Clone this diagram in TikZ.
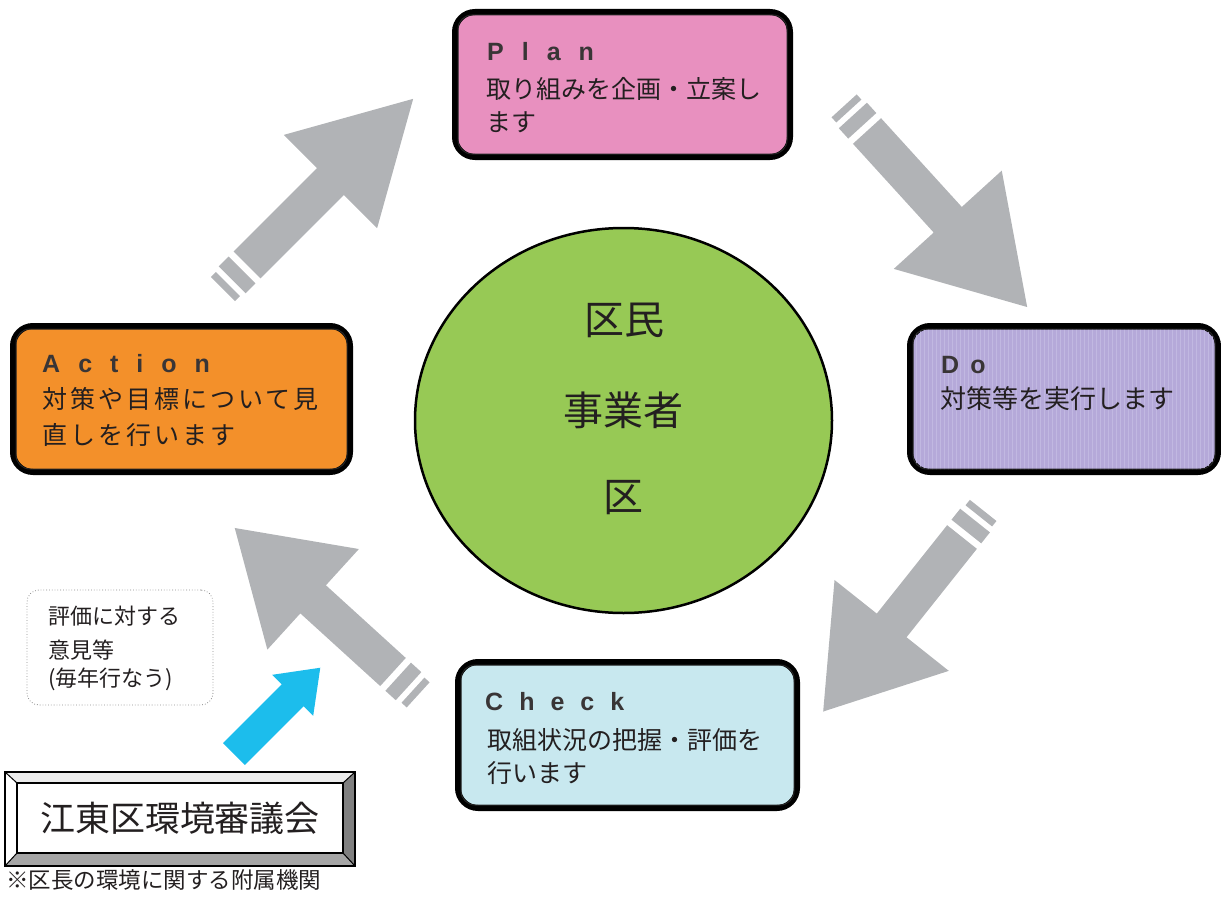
\documentclass[tikz,border=0pt]{standalone}
\usepackage{fontspec}
\setmainfont{Noto Sans CJK JP}
\newfontfamily\ttlfont{Liberation Sans}
\usetikzlibrary{calc,shapes.geometric}
\definecolor{plancol}{HTML}{E890BF}
\definecolor{docol}{HTML}{B5A9D9}
\definecolor{dogrid}{HTML}{C1B8E1}
\definecolor{actcol}{HTML}{F3902A}
\definecolor{chkcol}{HTML}{C8E8EF}
\definecolor{circcol}{HTML}{97C955}
\definecolor{arrowgray}{HTML}{B1B3B6}
\definecolor{bluearrow}{HTML}{1CBDEC}
\definecolor{textcol}{HTML}{231F20}
\newcommand{\cyclearrow}[5]{%
\begin{scope}[shift={#1},rotate=#2]
\fill[arrowgray] (0,-19) -- ({#3-#4},-19) -- ({#3-#4},-#5) -- (#3,0) -- ({#3-#4},#5) -- ({#3-#4},19) -- (0,19) -- cycle;
\fill[arrowgray] (-21,-19) rectangle (-7,19);
\fill[arrowgray] (-34,-17) rectangle (-27,17);
\end{scope}}
\begin{document}
\begin{tikzpicture}[x=1pt,y=-1pt,
  pdcabox/.style={draw=black, line width=6pt, rounded corners=20pt, inner sep=0pt, minimum height=146pt},
  innerline/.style={draw=black!85, line width=1pt, rounded corners=14pt},
  ttl/.style={font=\ttlfont\bfseries\fontsize{25}{30}\selectfont, text=textcol!90, inner sep=0pt, anchor=base west},
  body/.style={font=\fontsize{25}{30}\selectfont, text=textcol, inner sep=0pt, anchor=base west},
  small/.style={font=\fontsize{22}{26}\selectfont, text=textcol, inner sep=0pt, anchor=base west},
  big/.style={font=\fontsize{40}{46}\selectfont, text=textcol, inner sep=0pt, anchor=center}]
\useasboundingbox (0,0) rectangle (1221,899);

% ---------- gray cycle arrows ----------
\coordinate (a1s) at (247,265);
\coordinate (a2s) at (867,131);
\coordinate (a3s) at (962,537);
\coordinate (a4s) at (393,672);
\cyclearrow{(a1s)}{45}{235}{117}{66}
\cyclearrow{(a2s)}{-47.7}{238}{118}{73}
\cyclearrow{(a3s)}{-128.5}{223}{110}{73}
\cyclearrow{(a4s)}{137.7}{214}{106}{68}

% ---------- centre ellipse ----------
\node[ellipse, draw=black, line width=2.5pt, fill=circcol, minimum width=417pt, minimum height=385pt, inner sep=0pt] (centre) at (623.5,420.5) {};
\node[big] (c1) at (624,320) {区民};
\node[big] (c2) at (623,410) {事業者};
\node[big] (c3) at (623,498) {区};

% ---------- Plan ----------
\node[pdcabox, fill=plancol, minimum width=335pt, minimum height=145pt] (plan) at (622.5,84.5) {};
\draw[innerline] ($(plan.north west)+(6,6)$) rectangle ($(plan.south east)+(-6,-6)$);
\node[ttl] (plant) at (487,60) {P\hspace{18pt}l\hspace{18pt}a\hspace{18pt}n};
\node[body] (plan1) at (486,98.5) {取り組みを企画・立案し};
\node[body] (plan2) at (486,131.5) {ます};

% ---------- Do ----------
\node[pdcabox, fill=docol, minimum width=308pt] (do) at (1064,399) {};
\begin{scope}
\clip[rounded corners=14pt] ($(do.north west)+(6,6)$) rectangle ($(do.south east)+(-6,-6)$);
\draw[dogrid, line width=0.3pt] (910,326) grid[step=4] (1218,472);
\end{scope}
\draw[innerline] ($(do.north west)+(6,6)$) rectangle ($(do.south east)+(-6,-6)$);
\node[ttl] (dot) at (941,373) {D\hspace{11pt}o};
\node[body, font=\fontsize{26}{30}\selectfont] (do1) at (940,408.5) {対策等を実行します};

% ---------- Action ----------
\node[pdcabox, fill=actcol, minimum width=337pt] (act) at (181.5,399) {};
\draw[innerline] ($(act.north west)+(6,6)$) rectangle ($(act.south east)+(-6,-6)$);
\node[ttl] (actt) at (42,372) {A\hspace{18pt}c\hspace{18pt}t\hspace{18pt}i\hspace{18pt}o\hspace{18pt}n};
\node[body, font=\fontsize{25}{30}\selectfont\addfontfeature{LetterSpace=12}] (act1) at (42,408.5) {対策や目標について見};
\node[body, font=\fontsize{25}{30}\selectfont\addfontfeature{LetterSpace=12}] (act2) at (42,444) {直しを行います};

% ---------- Check ----------
\node[pdcabox, fill=chkcol, minimum width=339pt] (chk) at (627.5,735) {};
\draw[innerline] ($(chk.north west)+(6,6)$) rectangle ($(chk.south east)+(-6,-6)$);
\node[ttl] (chkt) at (485,710) {C\hspace{16pt}h\hspace{16pt}e\hspace{16pt}c\hspace{16pt}k};
\node[body] (chk1) at (487,749.5) {取組状況の把握・評価を};
\node[body] (chk2) at (487,782.5) {行います};

% ---------- dotted note ----------
\node[draw=black!45, dotted, line width=0.8pt, rounded corners=12pt, minimum width=186pt, minimum height=115pt, inner sep=0pt] (opin) at (120,647.5) {};
\node[small] (op1) at (48,624.5) {評価に対する};
\node[small] (op2) at (48,658) {意見等};
\node[small] (op3) at (48,686.5) {(毎年行なう)};

% ---------- blue arrow ----------
\coordinate (bs) at (234,754);
\begin{scope}[shift={(bs)},rotate=45]
\fill[bluearrow] (0,-15.5) -- (83,-15.5) -- (83,-29) -- (122,0) -- (83,29) -- (83,15.5) -- (0,15.5) -- cycle;
\end{scope}

% ---------- council box ----------
\fill[white] (5,772) rectangle (355,866);
\fill[black!8] (5,772) -- (355,772) -- (343,783) -- (17,783) -- cycle;
\fill[black!50] (355,772) -- (355,866) -- (343,853) -- (343,783) -- cycle;
\fill[black!35] (5,866) -- (355,866) -- (343,853) -- (17,853) -- cycle;
\draw[line width=1pt] (5,772) -- (17,783) (355,772) -- (343,783) (5,866) -- (17,853) (355,866) -- (343,853);
\draw[line width=2pt] (5,772) rectangle (355,866);
\node[draw=black, line width=2pt, fill=white, minimum width=326pt, minimum height=70pt, inner sep=0pt, font=\fontsize{35}{40}\selectfont, text=textcol] (council) at (180,818) {江東区環境審議会};
\node[small, font=\fontsize{22.5}{26}\selectfont] (remark) at (6,888.5) {※区長の環境に関する附属機関};
\end{tikzpicture}
\end{document}
